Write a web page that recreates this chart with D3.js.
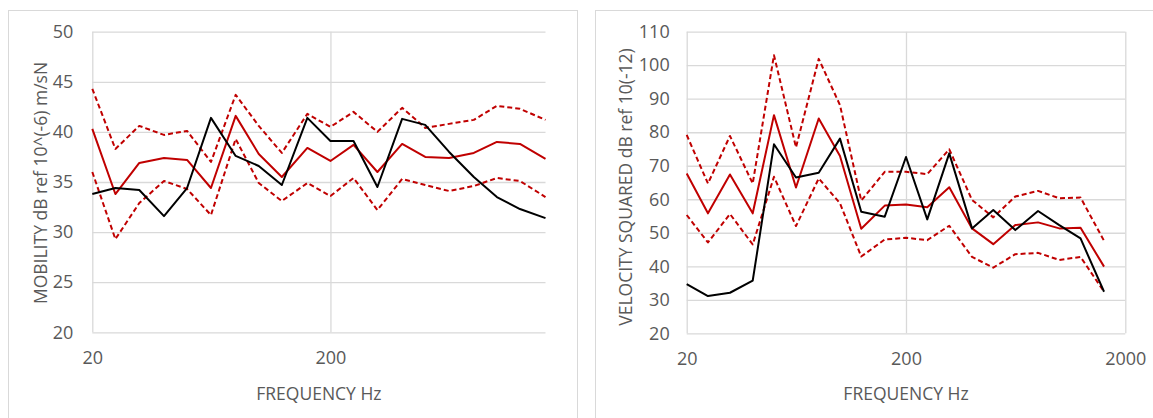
<!DOCTYPE html>
<html>
<head>
<meta charset="utf-8">
<script src="https://cdn.jsdelivr.net/npm/d3@7"></script>
<style>
  html, body { margin: 0; padding: 0; background: #fff; }
  svg { display: block; }
  text { font-family: "Open Sans", "Noto Sans", sans-serif; fill: #595959; }
</style>
</head>
<body>
<svg id="chart" width="1153" height="418"></svg>
<script>
// 1/3 octave band centre frequencies
const freqs = [20, 25, 31.5, 40, 50, 63, 80, 100, 125, 160, 200, 250, 315, 400, 500, 630, 800, 1000, 1250, 1600];

// left panel: mobility
const mobMean     = [40.3, 33.8, 36.9, 37.4, 37.2, 34.4, 41.6, 37.8, 35.5, 38.4, 37.1, 38.7, 36.0, 38.8, 37.5, 37.4, 37.9, 39.0, 38.8, 37.3];
const mobUpper    = [44.3, 38.3, 40.6, 39.7, 40.1, 37.0, 43.7, 40.6, 37.9, 41.8, 40.5, 42.0, 40.0, 42.4, 40.4, 40.8, 41.2, 42.6, 42.3, 41.2];
const mobLower    = [36.0, 29.3, 32.9, 35.1, 34.3, 31.7, 39.3, 34.9, 33.1, 34.9, 33.6, 35.4, 32.2, 35.3, 34.7, 34.1, 34.6, 35.4, 35.1, 33.5];
const mobMeasured = [33.8, 34.4, 34.2, 31.6, 34.4, 41.4, 37.6, 36.6, 34.7, 41.4, 39.1, 39.1, 34.5, 41.3, 40.7, 38.0, 35.5, 33.5, 32.3, 31.4];

// right panel: velocity squared
const velMean     = [67.7, 55.8, 67.4, 55.8, 85.1, 63.5, 84.1, 72.9, 51.2, 58.1, 58.4, 57.6, 63.6, 51.3, 46.6, 52.3, 53.1, 51.3, 51.5, 39.9];
const velUpper    = [79.2, 64.7, 78.9, 64.7, 103.0, 75.5, 101.9, 88.1, 59.6, 68.2, 68.2, 67.5, 74.9, 59.8, 54.6, 60.8, 62.5, 60.3, 60.5, 47.6];
const velLower    = [55.3, 47.1, 55.6, 46.5, 66.7, 52.0, 66.2, 58.8, 42.9, 48.0, 48.5, 47.8, 52.1, 42.8, 39.6, 43.6, 44.0, 41.9, 42.8, 32.4];
const velMeasured = [34.7, 31.1, 32.1, 35.7, 76.4, 66.5, 67.9, 78.1, 56.3, 54.8, 72.6, 54.0, 73.7, 51.3, 56.8, 50.8, 56.5, 52.3, 48.3, 32.4];

// axis ticks
const mobYTicks = [20, 25, 30, 35, 40, 45, 50];
const velYTicks = [20, 30, 40, 50, 60, 70, 80, 90, 100, 110];
const mobXTicks = [20, 200];
const velXTicks = [20, 200, 2000];

const RED = '#c00000';
const GRID = '#d9d9d9';

const svg = d3.select('#chart');

function drawPanel(opt) {
  // outer chart frame
  svg.append('rect')
    .attr('x', opt.frame[0] + 0.5).attr('y', opt.frame[1] + 0.5)
    .attr('width', opt.frame[2]).attr('height', opt.frame[3])
    .attr('fill', 'none').attr('stroke', GRID).attr('stroke-width', 1);

  const x = d3.scaleLog().domain(opt.xDomain).range([opt.left, opt.right]);
  const y = d3.scaleLinear().domain(opt.yDomain).range([opt.bottom, opt.top]);

  const g = svg.append('g');

  // horizontal gridlines
  g.append('g')
    .attr('transform', `translate(${opt.left},0)`)
    .call(d3.axisLeft(y).tickValues(opt.yTicks).tickSize(-(opt.right - opt.left)).tickFormat(''))
    .call(s => s.select('.domain').remove())
    .call(s => s.selectAll('line').attr('stroke', GRID).attr('stroke-width', 1.3));

  // vertical gridlines
  g.append('g')
    .attr('transform', `translate(0,${opt.bottom})`)
    .call(d3.axisBottom(x).tickValues(opt.xTicks).tickSize(-(opt.bottom - opt.top)).tickFormat(''))
    .call(s => s.select('.domain').remove())
    .call(s => s.selectAll('line').attr('stroke', GRID).attr('stroke-width', 1.3));

  // y tick labels
  g.append('g')
    .attr('transform', `translate(${opt.left},0)`)
    .call(d3.axisLeft(y).tickValues(opt.yTicks).tickSize(0).tickPadding(opt.yPad))
    .call(s => s.select('.domain').remove())
    .call(s => s.selectAll('text').attr('font-size', 18).attr('fill', '#595959').style('font-family', '"Open Sans", sans-serif'));

  // x tick labels
  g.append('g')
    .attr('transform', `translate(0,${opt.bottom})`)
    .call(d3.axisBottom(x).tickValues(opt.xTicks).tickSize(0).tickPadding(19).tickFormat(d3.format('d')))
    .call(s => s.select('.domain').remove())
    .call(s => s.selectAll('text').attr('font-size', 18).attr('fill', '#595959').style('font-family', '"Open Sans", sans-serif'));

  // axis titles
  g.append('text')
    .attr('x', (opt.left + opt.right) / 2).attr('y', 400)
    .attr('text-anchor', 'middle').attr('font-size', 17.5)
    .text('FREQUENCY Hz');

  g.append('text')
    .attr('transform', `translate(${opt.yTitleX},${opt.yTitleY}) rotate(-90)`)
    .attr('text-anchor', 'middle').attr('font-size', 17.5)
    .text(opt.yTitle);

  const line = d3.line()
    .x((d, i) => x(freqs[i]))
    .y(d => y(d));

  const series = [
    { values: opt.upper, color: RED, dash: '5,3' },
    { values: opt.lower, color: RED, dash: '5,3' },
    { values: opt.mean, color: RED, dash: null },
    { values: opt.measured, color: '#000', dash: null }
  ];

  g.append('g')
    .selectAll('path')
    .data(series)
    .join('path')
    .attr('d', d => line(d.values))
    .attr('fill', 'none')
    .attr('stroke', d => d.color)
    .attr('stroke-width', 2)
    .attr('stroke-dasharray', d => d.dash)
    .attr('stroke-linejoin', 'round');
}

drawPanel({
  frame: [8, 10, 569, 420],
  left: 92.3, right: 545.5, top: 31.7, bottom: 332.3,
  xDomain: [20, 1600], yDomain: [20, 50],
  xTicks: mobXTicks, yTicks: mobYTicks, yPad: 19,
  yTitle: 'MOBILITY dB ref 10^(-6) m/sN', yTitleX: 47, yTitleY: 183,
  mean: mobMean, upper: mobUpper, lower: mobLower, measured: mobMeasured
});

drawPanel({
  frame: [595, 10, 600, 420],
  left: 686.7, right: 1125.3, top: 31.7, bottom: 333.3,
  xDomain: [20, 2000], yDomain: [20, 110],
  xTicks: velXTicks, yTicks: velYTicks, yPad: 17,
  yTitle: 'VELOCITY SQUARED dB ref 10(-12)', yTitleX: 631.5, yTitleY: 187,
  mean: velMean, upper: velUpper, lower: velLower, measured: velMeasured
});
</script>
</body>
</html>
